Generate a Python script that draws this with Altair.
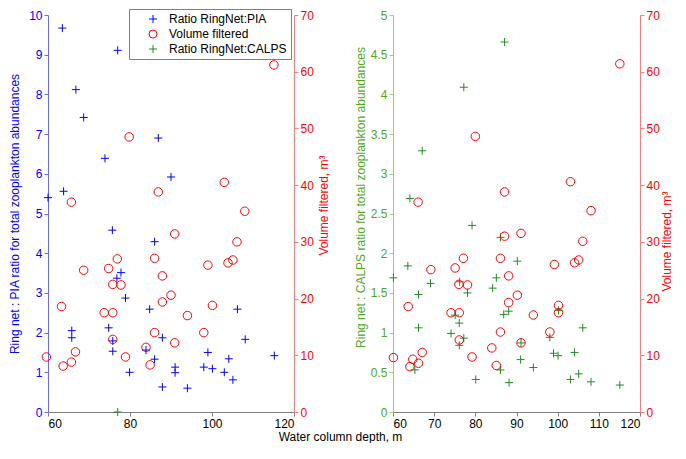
import altair as alt
import pandas as pd

# ---------------- data ----------------
# Left panel: Ring net : PIA ratio
pia_depth = [63.5, 77.0, 66.8, 68.7, 86.9, 73.9, 90.0, 63.8, 60.0, 75.7, 86.0, 77.8, 76.8,
             78.9, 84.8, 106.2, 65.8, 65.8, 74.8, 75.8, 87.9, 108.1, 75.8, 83.9, 99.0, 115.2,
             86.0, 104.1, 91.0, 91.0, 79.9, 98.0, 100.1, 103.0, 105.1, 87.9, 94.0]
pia_ratio = [9.67, 9.11, 8.12, 7.42, 6.90, 6.39, 5.92, 5.56, 5.40, 4.58, 4.29, 3.51, 3.37,
             2.87, 2.59, 2.59, 2.05, 1.87, 2.12, 1.79, 1.87, 1.83, 1.53, 1.56, 1.50, 1.42,
             1.33, 1.34, 1.13, 0.99, 1.00, 1.13, 1.09, 1.00, 0.81, 0.63, 0.60]
# stray CALPS marker visible on the left panel's depth axis
calps_left_depth = [77.0]
calps_left_ratio = [0.0]
# Left panel: volume filtered (m3)
volL_depth = [115.1, 79.8, 86.9, 103.0, 65.7, 108.0, 90.9, 106.1, 86.0, 76.9, 68.7, 74.8,
              99.0, 103.9, 105.1, 87.9, 75.8, 77.8, 90.0, 87.9, 63.3, 100.1, 73.7, 75.8,
              94.0, 86.0, 98.0, 90.9, 75.8, 83.9, 66.7, 59.6, 78.9, 65.7, 63.7, 84.9]
volL_value = [61.2, 48.5, 38.8, 40.5, 37.0, 35.4, 31.4, 30.0, 27.1, 27.0, 25.0, 25.3,
              25.9, 26.3, 26.8, 24.0, 22.5, 22.4, 20.6, 19.4, 18.6, 18.8, 17.5, 17.5,
              17.0, 14.0, 14.0, 12.2, 12.8, 11.4, 10.6, 9.7, 9.7, 8.8, 8.1, 8.3]

# Right panel: Ring net : CALPS ratio
calps_depth = [87.1, 77.2, 67.1, 64.1, 79.2, 86.1, 90.2, 63.6, 60.1, 85.1, 69.1, 76.2, 84.2,
               78.1, 66.2, 100.2, 88.1, 86.9, 75.1, 76.1, 66.2, 106.1, 74.1, 98.1, 77.2,
               91.1, 76.1, 99.0, 104.1, 100.1, 91.0, 94.1, 86.1, 65.3, 105.1, 80.1, 103.1,
               88.2, 108.1, 115.1]
calps_ratio = [4.66, 4.09, 3.29, 2.69, 2.35, 2.20, 1.90, 1.84, 1.69, 1.69, 1.62, 1.64, 1.56,
               1.50, 1.48, 1.28, 1.27, 1.23, 1.22, 1.12, 1.06, 1.06, 0.99, 0.94, 0.93,
               0.87, 0.84, 0.74, 0.75, 0.71, 0.66, 0.56, 0.53, 0.53, 0.48, 0.41, 0.41,
               0.37, 0.38, 0.34]
# Right panel: volume filtered (m3)
volR_depth = [115.1, 80.0, 87.1, 103.1, 66.1, 108.1, 91.1, 106.1, 87.1, 86.1, 77.1, 69.2,
              75.1, 99.2, 104.1, 105.1, 88.1, 76.0, 78.1, 90.2, 88.1, 100.2, 100.2, 63.7,
              74.1, 76.1, 94.1, 86.1, 98.1, 91.1, 76.1, 84.0, 67.1, 60.1, 79.2, 66.2,
              64.8, 64.1, 85.1]
volR_value = [61.4, 48.6, 38.8, 40.6, 37.0, 35.5, 31.5, 30.1, 31.0, 27.1, 27.1, 25.1,
              25.4, 26.0, 26.3, 26.8, 24.0, 22.5, 22.4, 20.6, 19.3, 18.8, 17.5, 18.6,
              17.5, 17.5, 17.1, 14.1, 14.1, 12.2, 12.7, 11.3, 10.5, 9.6, 9.7, 8.6,
              9.3, 8.0, 8.2]

SERIES = ["Ratio RingNet:PIA", "Volume filtered", "Ratio RingNet:CALPS"]
xticks_left = [60, 80, 100, 120]
xticks_right = [60, 70, 80, 90, 100, 110, 120]
ticks_pia = list(range(0, 11))
ticks_calps = [0, 0.5, 1, 1.5, 2, 2.5, 3, 3.5, 4, 4.5, 5]
ticks_vol = list(range(0, 71, 10))

# ---------------- styling ----------------
FONT = "Liberation Sans"
PLUS = "M-1,0L1,0M0,-1L0,1"
BLUE, RED, GREEN = "#0000FF", "#FF0000", "#228B22"
GREEN_AX = "#4FA81E"
MSIZE = 64
CSIZE = 72
W_L, W_R, H = 246, 247, 397

left_ratio_df = pd.DataFrame({
    "depth": pia_depth + calps_left_depth,
    "value": pia_ratio + calps_left_ratio,
    "series": [SERIES[0]] * len(pia_depth) + [SERIES[2]] * len(calps_left_depth),
})
left_vol_df = pd.DataFrame({"depth": volL_depth, "value": volL_value,
                            "series": [SERIES[1]] * len(volL_depth)})
right_ratio_df = pd.DataFrame({"depth": calps_depth, "value": calps_ratio})
right_vol_df = pd.DataFrame({"depth": volR_depth, "value": volR_value})

color_scale = alt.Scale(domain=SERIES, range=[BLUE, RED, GREEN])
shape_scale = alt.Scale(domain=SERIES, range=[PLUS, "circle", PLUS])
legend = alt.Legend(title=None, orient="none", legendX=81, legendY=-6,
                    fillColor="white", strokeColor="#7f7f7f",
                    padding=4, symbolOffset=14, labelOffset=10, rowPadding=3,
                    labelFont=FONT, labelFontSize=12, labelColor="black",
                    symbolSize=MSIZE, symbolStrokeWidth=1, labelExpr="datum.label + '     '")

def x_enc(ticks):
    return alt.X("depth:Q", scale=alt.Scale(domain=[60, 120], nice=False, zero=False),
                 axis=alt.Axis(values=ticks, title=None, domainColor="#808080",
                               tickColor="#808080", labelColor="black", format="d"))

def y_axis(orient, ticks, title, lab, line, pad, ty=None):
    kw = dict(orient=orient, values=ticks, title=title, labelColor=lab, titleColor=lab,
              domainColor=line, tickColor=line, titlePadding=pad,
              labelExpr="toString(datum.value)")
    if orient == "right":
        kw["titleAngle"] = 270
        kw["titleBaseline"] = "top"
    if ty is not None:
        kw["titleY"] = ty
    return alt.Axis(**kw)

# ----- left panel -----
pia_layer = alt.Chart(left_ratio_df).mark_point(filled=False, size=MSIZE, strokeWidth=1, opacity=1).encode(
    x=x_enc(xticks_left),
    y=alt.Y("value:Q", scale=alt.Scale(domain=[0, 10], nice=False),
            axis=y_axis("left", ticks_pia, "Ring net : PIA ratio for total zooplankton abundances",
                        BLUE, "#6a6aff", 7)),
    color=alt.Color("series:N", scale=color_scale, legend=legend),
    shape=alt.Shape("series:N", scale=shape_scale, legend=legend),
)
volL_layer = alt.Chart(left_vol_df).mark_point(filled=False, size=CSIZE, strokeWidth=1, opacity=1).encode(
    x=x_enc(xticks_left),
    y=alt.Y("value:Q", scale=alt.Scale(domain=[0, 70], nice=False),
            axis=y_axis("right", ticks_vol, "Volume filtered, m³", RED, "#ff7a7a", 5, ty=190)),
    color=alt.Color("series:N", scale=color_scale, legend=legend),
    shape=alt.Shape("series:N", scale=shape_scale, legend=legend),
)
left = alt.layer(pia_layer, volL_layer).resolve_scale(y="independent").properties(width=W_L, height=H)

# ----- right panel -----
calps_layer = alt.Chart(right_ratio_df).mark_point(
    filled=False, size=MSIZE, strokeWidth=1, opacity=1, shape=PLUS, color=GREEN).encode(
    x=x_enc(xticks_right),
    y=alt.Y("value:Q", scale=alt.Scale(domain=[0, 5], nice=False),
            axis=y_axis("left", ticks_calps, "Ring net : CALPS ratio for total zooplankton abundances",
                        GREEN_AX, "#9ccf70", 3, ty=182)),
)
volR_layer = alt.Chart(right_vol_df).mark_point(
    filled=False, size=CSIZE, strokeWidth=1, opacity=1, shape="circle", color=RED).encode(
    x=x_enc(xticks_right),
    y=alt.Y("value:Q", scale=alt.Scale(domain=[0, 70], nice=False),
            axis=y_axis("right", ticks_vol, "Volume filtered, m³", RED, "#ff7a7a", 2, ty=226)),
)
right = alt.layer(calps_layer, volR_layer).resolve_scale(y="independent").properties(width=W_R, height=H)

chart = alt.hconcat(left, right, spacing=24).properties(
    title=alt.TitleParams("Water column depth, m", orient="bottom", anchor="middle",
                          fontSize=12, font=FONT, fontWeight="normal", color="black", offset=3),
    padding=0,
).configure_view(stroke=None).configure_axis(
    grid=False, labelFont=FONT, titleFont=FONT, labelFontSize=12, titleFontSize=12,
    titleFontWeight="normal", tickSize=4, labelPadding=2, domainWidth=1, tickWidth=1,
).configure_text(font=FONT)

chart.save("out.html", embed_options={"renderer": "svg", "actions": False})
